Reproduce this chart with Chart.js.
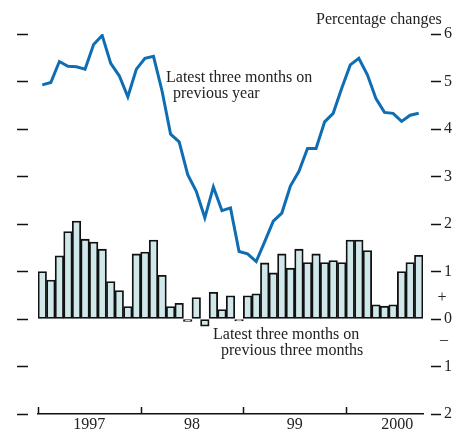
<!DOCTYPE html>
<html>
<head>
<meta charset="utf-8">
<script src="https://cdn.jsdelivr.net/npm/chart.js@4"></script>
<style>
  html, body { margin: 0; padding: 0; background: #fff; }
  #wrap { width: 456px; height: 432px; position: relative; }
</style>
</head>
<body>
<div id="wrap"><canvas id="chart"></canvas></div>
<script>
// Monthly observations, Jan 1997 - Sep 2000
// ----------------------------------------------
const months = [
  'Jan 97','Feb 97','Mar 97','Apr 97','May 97','Jun 97','Jul 97','Aug 97','Sep 97','Oct 97','Nov 97','Dec 97',
  'Jan 98','Feb 98','Mar 98','Apr 98','May 98','Jun 98','Jul 98','Aug 98','Sep 98','Oct 98','Nov 98','Dec 98',
  'Jan 99','Feb 99','Mar 99','Apr 99','May 99','Jun 99','Jul 99','Aug 99','Sep 99','Oct 99','Nov 99','Dec 99',
  'Jan 00','Feb 00','Mar 00','Apr 00','May 00','Jun 00','Jul 00','Aug 00','Sep 00'
];

// Latest three months on previous year (line)
const onYear = [
  4.93, 4.98, 5.42, 5.32, 5.31, 5.26, 5.78, 5.97, 5.38, 5.12, 4.68, 5.26,
  5.49, 5.53, 4.80, 3.89, 3.73, 3.04, 2.69, 2.13, 2.78, 2.28, 2.34, 1.42,
  1.37, 1.21, 1.63, 2.06, 2.23, 2.80, 3.11, 3.59, 3.59, 4.15, 4.33, 4.86,
  5.35, 5.49, 5.14, 4.64, 4.35, 4.33, 4.16, 4.29, 4.33
];

// Latest three months on previous three months (bars)
const onThreeMonths = [
  1.00, 0.82, 1.33, 1.84, 2.06, 1.68, 1.62, 1.47, 0.79, 0.60, 0.26, 1.37,
  1.41, 1.66, 0.92, 0.26, 0.33, -0.05, 0.45, -0.15, 0.56, 0.20, 0.49, -0.04,
  0.49, 0.53, 1.18, 0.97, 1.37, 1.07, 1.47, 1.19, 1.37, 1.19, 1.23, 1.19,
  1.66, 1.66, 1.44, 0.30, 0.27, 0.30, 1.00, 1.19, 1.34
];

// Year labels sit in the middle of each year, tick marks on the year boundaries
const yearLabels = ['1997', '98', '99', '2000'];
const yearMid    = [5.5, 17.5, 29.5, 41.5];
const yearStart  = [-0.5, 11.5, 23.5, 35.5];

const textFont  = '"Liberation Serif", "Times New Roman", serif';
const textColor = '#222';
const lineColor = '#0f6db3';
const barColor  = '#d0e8ea';

// Texts and the inward year ticks
// ----------------------------------------------
const notes = {
  id: 'notes',
  afterDraw(chart) {
    const { ctx, chartArea, scales } = chart;
    ctx.save();

    // year boundary ticks, pointing up into the plot
    ctx.strokeStyle = '#111';
    ctx.lineWidth = 1.5;
    yearStart.forEach(v => {
      const px = Math.round(scales.x.getPixelForValue(v)) + 0.5;
      ctx.beginPath();
      ctx.moveTo(px, chartArea.bottom);
      ctx.lineTo(px, chartArea.bottom - 7);
      ctx.stroke();
    });

    ctx.fillStyle = textColor;
    ctx.font = '16px ' + textFont;
    ctx.textBaseline = 'middle';
    ctx.textAlign = 'left';
    ctx.fillText('Percentage changes', 316, 20);
    ctx.fillText('Latest three months on', 166, 78);
    ctx.fillText('previous year', 173, 94);
    ctx.fillText('Latest three months on', 213, 335);
    ctx.fillText('previous three months', 221, 351);

    ctx.textAlign = 'center';
    ctx.fillText('+', 442, scales.y2.getPixelForValue(0.45));
    ctx.fillText('\u2013', 444, scales.y2.getPixelForValue(-0.44));
    ctx.restore();
  }
};

new Chart(document.getElementById('chart'), {
  type: 'bar',
  data: {
    labels: months,
    datasets: [
      {
        type: 'line',
        label: 'Latest three months on previous year',
        data: onYear.map((v, i) => ({ x: i, y: v })),
        borderColor: lineColor,
        borderWidth: 3,
        pointRadius: 0,
        tension: 0,
        order: 0,
        yAxisID: 'y'
      },
      {
        label: 'Latest three months on previous three months',
        data: onThreeMonths.map((v, i) => ({ x: i, y: v })),
        backgroundColor: barColor,
        borderColor: '#111',
        borderWidth: 1.8,
        borderSkipped: false,
        barPercentage: 1,
        categoryPercentage: 1,
        order: 1,
        yAxisID: 'y'
      }
    ]
  },
  options: {
    responsive: true,
    maintainAspectRatio: false,
    animation: false,
    layout: { padding: { top: 34, left: 0, right: 0, bottom: 0 } },
    plugins: {
      legend: { display: false },
      tooltip: { enabled: false }
    },
    scales: {
      x: {
        type: 'linear',
        min: -0.5,
        max: 44.5,
        offset: false,
        grid: { display: false },
        border: { display: true, color: '#111', width: 1.5 },
        afterBuildTicks: s => { s.ticks = yearMid.map(v => ({ value: v })); },
        afterFit: s => { s.height = 18; },
        ticks: {
          padding: -7,
          color: textColor,
          font: { family: textFont, size: 16 },
          maxRotation: 0,
          callback: (v, i) => yearLabels[i]
        }
      },
      y: {
        position: 'left',
        min: -2,
        max: 6,
        border: { display: false },
        grid: {
          drawOnChartArea: false,
          tickLength: 21,
          tickColor: '#111',
          tickWidth: 1.5,
          tickBorderDash: [11, 20]
        },
        afterFit: s => { s.width = 38; },
        ticks: { display: false, stepSize: 1 }
      },
      y2: {
        position: 'right',
        min: -2,
        max: 6,
        border: { display: false },
        grid: {
          drawOnChartArea: false,
          tickLength: 18,
          tickColor: '#111',
          tickWidth: 1.5,
          tickBorderDash: [10, 8],
          tickBorderDashOffset: 10
        },
        afterFit: s => { s.width = 33; },
        ticks: {
          stepSize: 1,
          padding: 3,
          color: textColor,
          font: { family: textFont, size: 16 },
          callback: v => String(Math.abs(v))
        }
      }
    }
  },
  plugins: [notes]
});
</script>
</body>
</html>
